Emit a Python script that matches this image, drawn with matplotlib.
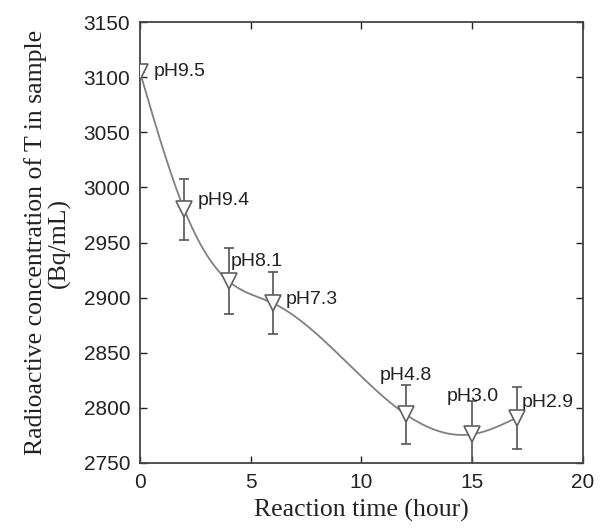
import numpy as np
import matplotlib
matplotlib.use("Agg")
import matplotlib.pyplot as plt

# Data
time_h = [0, 2, 4, 6, 12, 15, 17]
conc = [3105, 2980, 2915, 2895, 2794, 2776, 2791]
err = [0, 28, 30, 28, 27, 30, 28]
ph_labels = ["pH9.5", "pH9.4", "pH8.1", "pH7.3", "pH4.8", "pH3.0", "pH2.9"]
label_x = [0.6, 2.6, 4.1, 6.6, 12.0, 15.0, 17.25]
label_y = [3105, 2988, 2933, 2898, 2829, 2810, 2805]
label_ha = ["left", "left", "left", "left", "center", "center", "left"]


def natural_spline(x, y, xs):
    x = np.asarray(x, float); y = np.asarray(y, float)
    n = len(x)
    h = np.diff(x)
    A = np.zeros((n, n)); b = np.zeros(n)
    A[0, 0] = 1; A[-1, -1] = 1
    for i in range(1, n - 1):
        A[i, i - 1] = h[i - 1]
        A[i, i] = 2 * (h[i - 1] + h[i])
        A[i, i + 1] = h[i]
        b[i] = 3 * ((y[i + 1] - y[i]) / h[i] - (y[i] - y[i - 1]) / h[i - 1])
    c = np.linalg.solve(A, b)
    out = np.empty_like(xs)
    for k, xv in enumerate(xs):
        i = min(max(np.searchsorted(x, xv) - 1, 0), n - 2)
        dx = xv - x[i]
        bi = (y[i + 1] - y[i]) / h[i] - h[i] * (2 * c[i] + c[i + 1]) / 3
        di = (c[i + 1] - c[i]) / (3 * h[i])
        out[k] = y[i] + bi * dx + c[i] * dx ** 2 + di * dx ** 3
    return out


fig = plt.figure(figsize=(6.03, 5.29), dpi=100)
ax = fig.add_axes([0.232, 0.125, 0.735, 0.833])

xs = np.linspace(time_h[0], time_h[-1], 400)
ax.plot(xs, natural_spline(time_h, conc, xs), color="#808080", lw=1.3, zorder=2)
ax.errorbar(time_h, conc, yerr=err, fmt="none", ecolor="#555555", elinewidth=1.2,
            capsize=3.5, capthick=1.2, zorder=3)
ax.plot(time_h, conc, linestyle="none", marker="v", markersize=11.5,
        markerfacecolor="white", markeredgecolor="#606060", markeredgewidth=1.2, zorder=4)

for t, lx, ly, ha in zip(ph_labels, label_x, label_y, label_ha):
    ax.text(lx, ly, t, ha=ha, va="center", fontsize=14, family="Liberation Sans", color="#222222")

ax.set_xlim(0, 20)
ax.set_ylim(2750, 3150)
ax.set_xticks([0, 5, 10, 15, 20])
ax.set_yticks(np.arange(2750, 3151, 50))
ax.tick_params(direction="in", top=True, right=True, length=5, width=1, labelsize=15,
               colors="#222222", pad=7)
for lab in ax.get_xticklabels() + ax.get_yticklabels():
    lab.set_family("Liberation Sans")
for s in ax.spines.values():
    s.set_color("#444444")
    s.set_linewidth(1.3)

ax.set_xlabel("Reaction time (hour)", fontsize=18.5, family="Liberation Serif", color="#222222",
              labelpad=5)
ax.set_ylabel("Radioactive concentration of T in sample\n(Bq/mL)", fontsize=18.5,
              family="Liberation Serif", color="#222222", linespacing=1.05, labelpad=9)

fig.savefig("out.png", dpi=100)
